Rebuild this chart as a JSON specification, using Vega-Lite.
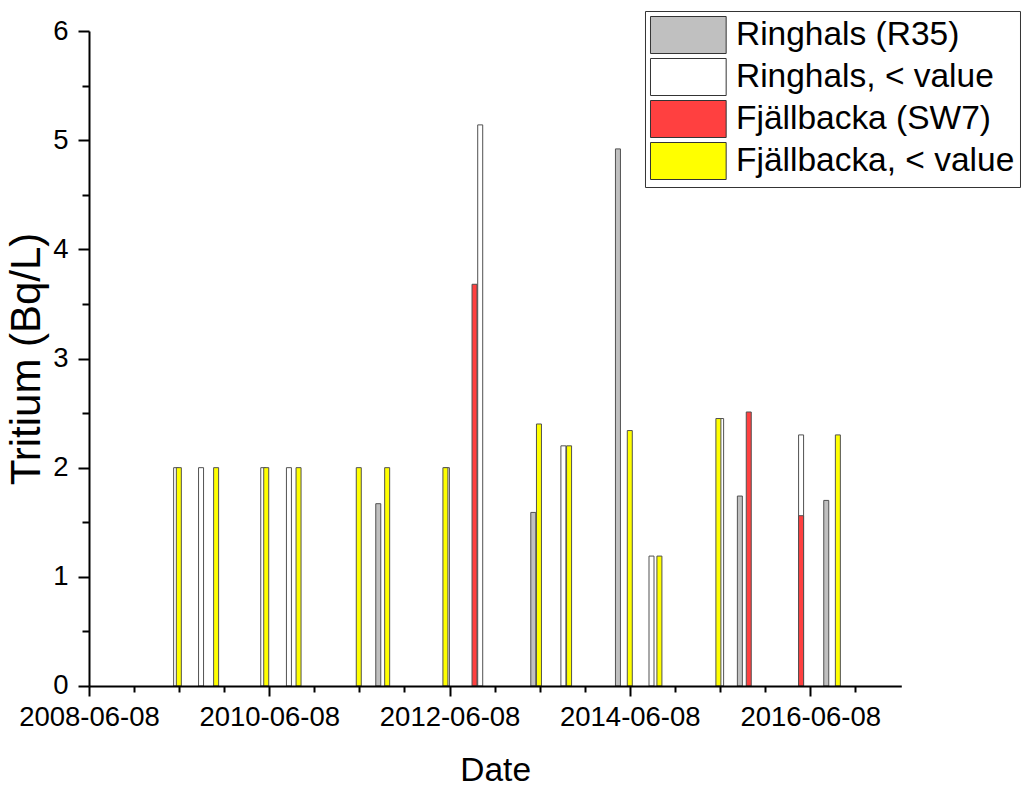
{
  "$schema": "https://vega.github.io/schema/vega-lite/v6.json",
  "width": 812.3,
  "height": 655,
  "autosize": {"type": "none"},
  "padding": {"left": 89, "top": 31, "right": 122, "bottom": 101},
  "background": "white",
  "config": {
    "view": {"stroke": null},
    "font": "Liberation Sans",
    "axis": {
      "grid": false,
      "domainColor": "black",
      "domainWidth": 2,
      "tickColor": "black",
      "tickWidth": 2,
      "labelFont": "Liberation Sans",
      "labelFontSize": 27.5,
      "labelColor": "black",
      "titleFont": "Liberation Sans",
      "titleFontSize": 33.5,
      "titleFontWeight": "normal",
      "titleColor": "black"
    }
  },
  "data": {
    "values": [
      {"date": "2011-08-24", "value": 1.67, "series": "Ringhals (R35)"},
      {"date": "2013-05-13", "value": 1.59, "series": "Ringhals (R35)"},
      {"date": "2014-04-21", "value": 4.92, "series": "Ringhals (R35)"},
      {"date": "2015-08-28", "value": 1.74, "series": "Ringhals (R35)"},
      {"date": "2016-08-12", "value": 1.70, "series": "Ringhals (R35)"},
      {"date": "2009-05-27", "value": 2.0, "series": "Ringhals, < value"},
      {"date": "2009-09-05", "value": 2.0, "series": "Ringhals, < value"},
      {"date": "2010-05-15", "value": 2.0, "series": "Ringhals, < value"},
      {"date": "2010-08-27", "value": 2.0, "series": "Ringhals, < value"},
      {"date": "2012-05-28", "value": 2.0, "series": "Ringhals, < value"},
      {"date": "2012-10-10", "value": 5.14, "series": "Ringhals, < value"},
      {"date": "2013-09-12", "value": 2.2, "series": "Ringhals, < value"},
      {"date": "2014-09-04", "value": 1.19, "series": "Ringhals, < value"},
      {"date": "2015-06-13", "value": 2.45, "series": "Ringhals, < value"},
      {"date": "2016-05-02", "value": 2.30, "series": "Ringhals, < value"},
      {"date": "2012-09-17", "value": 3.68, "series": "Fjällbacka (SW7)"},
      {"date": "2015-10-03", "value": 2.51, "series": "Fjällbacka (SW7)"},
      {"date": "2016-05-02", "value": 1.56, "series": "Fjällbacka (SW7)"},
      {"date": "2009-06-07", "value": 2.0, "series": "Fjällbacka, < value"},
      {"date": "2009-11-05", "value": 2.0, "series": "Fjällbacka, < value"},
      {"date": "2010-05-27", "value": 2.0, "series": "Fjällbacka, < value"},
      {"date": "2010-10-05", "value": 2.0, "series": "Fjällbacka, < value"},
      {"date": "2011-06-06", "value": 2.0, "series": "Fjällbacka, < value"},
      {"date": "2011-09-29", "value": 2.0, "series": "Fjällbacka, < value"},
      {"date": "2012-05-22", "value": 2.0, "series": "Fjällbacka, < value"},
      {"date": "2013-06-05", "value": 2.40, "series": "Fjällbacka, < value"},
      {"date": "2013-10-05", "value": 2.2, "series": "Fjällbacka, < value"},
      {"date": "2014-06-08", "value": 2.34, "series": "Fjällbacka, < value"},
      {"date": "2014-10-06", "value": 1.19, "series": "Fjällbacka, < value"},
      {"date": "2015-06-02", "value": 2.45, "series": "Fjällbacka, < value"},
      {"date": "2016-09-28", "value": 2.30, "series": "Fjällbacka, < value"}
    ]
  },
  "resolve": {"axis": {"x": "independent", "y": "independent"}},
  "layer": [
    {
      "mark": {"type": "bar", "size": 5, "opacity": 0},
      "encoding": {
        "x": {
          "field": "date", "type": "temporal",
          "scale": {"type": "utc", "padding": 0, "domain": [{"year": 2008, "month": 6, "date": 8, "utc": true}, {"year": 2017, "month": 6, "date": 12, "utc": true}], "nice": false},
          "axis": {
            "orient": "bottom", "title": null, "labels": false, "domain": false, "tickSize": 6,
            "values": [
              {"year": 2008, "month": 12, "date": 8, "utc": true},
              {"year": 2009, "month": 6, "date": 8, "utc": true},
              {"year": 2009, "month": 12, "date": 8, "utc": true},
              {"year": 2010, "month": 12, "date": 8, "utc": true},
              {"year": 2011, "month": 6, "date": 8, "utc": true},
              {"year": 2011, "month": 12, "date": 8, "utc": true},
              {"year": 2012, "month": 12, "date": 8, "utc": true},
              {"year": 2013, "month": 6, "date": 8, "utc": true},
              {"year": 2013, "month": 12, "date": 8, "utc": true},
              {"year": 2014, "month": 12, "date": 8, "utc": true},
              {"year": 2015, "month": 6, "date": 8, "utc": true},
              {"year": 2015, "month": 12, "date": 8, "utc": true},
              {"year": 2016, "month": 12, "date": 8, "utc": true}
            ]
          }
        },
        "y": {
          "field": "value", "type": "quantitative", "stack": null,
          "scale": {"domain": [0, 6], "nice": false, "zero": true},
          "axis": {
            "orient": "left", "title": null, "labels": false, "domain": false, "tickSize": 7,
            "values": [0.5, 1.5, 2.5, 3.5, 4.5, 5.5]
          }
        }
      }
    },
    {
      "mark": {"type": "bar", "size": 5, "stroke": "#505050", "strokeWidth": 1},
      "encoding": {
        "x": {
          "field": "date", "type": "temporal",
          "scale": {"type": "utc", "padding": 0, "domain": [{"year": 2008, "month": 6, "date": 8, "utc": true}, {"year": 2017, "month": 6, "date": 12, "utc": true}], "nice": false},
          "axis": {
            "orient": "bottom", "title": "Date", "format": "%Y-%m-%d", "tickSize": 10,
            "labelPadding": 8, "titlePadding": 23, "labelFlush": false, "labelOverlap": false, "zindex": 1,
            "values": [
              {"year": 2008, "month": 6, "date": 8, "utc": true},
              {"year": 2010, "month": 6, "date": 8, "utc": true},
              {"year": 2012, "month": 6, "date": 8, "utc": true},
              {"year": 2014, "month": 6, "date": 8, "utc": true},
              {"year": 2016, "month": 6, "date": 8, "utc": true}
            ]
          }
        },
        "y": {
          "field": "value", "type": "quantitative", "stack": null,
          "scale": {"domain": [0, 6], "nice": false, "zero": true},
          "axis": {
            "orient": "left", "title": "Tritium (Bq/L)", "values": [0, 1, 2, 3, 4, 5, 6], "format": "d",
            "tickSize": 11, "labelPadding": 10, "titlePadding": 4, "titleFontSize": 42, "zindex": 1
          }
        },
        "fill": {
          "field": "series", "type": "nominal",
          "scale": {
            "domain": ["Ringhals (R35)", "Ringhals, < value", "Fjällbacka (SW7)", "Fjällbacka, < value"],
            "range": ["#c0c0c0", "#ffffff", "#ff4040", "#ffff00"]
          },
          "legend": {
            "title": null,
            "orient": "none",
            "legendX": 556,
            "legendY": -20,
            "padding": 5,
            "rowPadding": 0,
            "strokeColor": "#333333",
            "fillColor": "white",
            "symbolType": "M-1,-1H3.09V1H-1Z",
            "symbolSize": 1369,
            "symbolStrokeColor": "#333333",
            "symbolStrokeWidth": 1,
            "symbolOpacity": 1,
            "labelOffset": 48,
            "labelFont": "Liberation Sans",
            "labelFontSize": 33.5,
            "labelColor": "black",
            "labelLimit": 500
          }
        }
      }
    }
  ]
}
